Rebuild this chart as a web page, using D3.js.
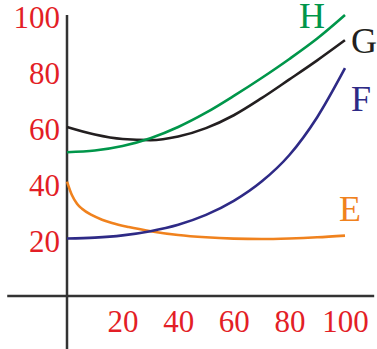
<!DOCTYPE html>
<html>
<head>
<meta charset="utf-8">
<script src="https://cdn.jsdelivr.net/npm/d3@7"></script>
<style>
	html, body { margin: 0; padding: 0; background: #fff; }
	svg { display: block; font-family: "Liberation Serif", "DejaVu Serif", serif; }
</style>
</head>
<body>
<div id="chart"></div>
<script>
// values
const xTicks = [20, 40, 60, 80, 100]
const yTicks = [20, 40, 60, 80, 100]
const xGrid = [0, 10, 20, 30, 40, 50, 60, 70, 80, 90, 100]
const xE = [0, 1.8, 3.6, 5.4, 9, 12.6, 16.2, 22.2, 30.6, 40, 50, 60, 70, 80, 90, 100]
const valuesE = [40.5, 35.6, 32.6, 30.8, 28.5, 26.9, 25.7, 24.25, 22.7, 21.4, 20.6, 20.15, 20, 20.2, 20.6, 21.2]
const valuesF = [20.2, 20.5, 21.3, 22.8, 25.1, 28.6, 33.6, 40.5, 50, 63.5, 81]
const valuesG = [60, 57.3, 55.7, 55.3, 56.6, 59.6, 64.2, 70.3, 77, 83.8, 91]
const valuesH = [51, 51.6, 53.2, 56, 60, 65.1, 71.1, 77.5, 84.3, 91.6, 100]

const width = 377, height = 349
const margin = { top: 15, left: 67 }
const plotW = 278, plotH = 280

const colors = { E: '#f0821e', F: '#2e2a86', G: '#231f20', H: '#00964a' }
// label offsets from each curve's last point (px)
const labelPos = { E: [-6, -15], F: [6, 43], G: [6, 13], H: [-46, 13] }

const series = [
	{ name: 'E', xs: xE, ys: valuesE },
	{ name: 'F', xs: xGrid, ys: valuesF },
	{ name: 'G', xs: xGrid, ys: valuesG },
	{ name: 'H', xs: xGrid, ys: valuesH }
]

const x = d3.scaleLinear().domain([0, 100]).range([margin.left, margin.left + plotW])
const y = d3.scaleLinear().domain([0, 100]).range([margin.top + plotH, margin.top])

const svg = d3.select('#chart').append('svg')
	.attr('width', width)
	.attr('height', height)

// axis lines, crossing at the origin and running past the plot
svg.append('line')
	.attr('x1', x(-21.5)).attr('x2', x(110.5))
	.attr('y1', y(0) + 1).attr('y2', y(0) + 1)
	.attr('stroke', '#333').attr('stroke-width', 2.5)
svg.append('line')
	.attr('x1', x(0)).attr('x2', x(0))
	.attr('y1', y(100)).attr('y2', height)
	.attr('stroke', '#333').attr('stroke-width', 2.5)

// tick labels, no tick marks
const xAxis = d3.axisBottom(x).tickValues(xTicks).tickSize(0).tickPadding(0)
const gx = svg.append('g')
	.attr('transform', `translate(0,${y(0)})`)
	.call(xAxis)
gx.select('.domain').remove()
gx.selectAll('text')
	.attr('y', 37)
	.attr('dy', 0)
	.attr('fill', '#e31e26')
	.style('font-size', '31px')
	.style('font-family', '"Liberation Serif", serif')

const yAxis = d3.axisLeft(y).tickValues(yTicks).tickSize(0).tickPadding(0)
const gy = svg.append('g')
	.attr('transform', `translate(${x(0) - 6},0)`)
	.call(yAxis)
gy.select('.domain').remove()
gy.selectAll('text')
	.attr('x', -1)
	.attr('dy', '0.4em')
	.attr('fill', '#e31e26')
	.style('font-size', '31px')
	.style('font-family', '"Liberation Serif", serif')

// curves
const line = d3.line()
	.x(d => x(d[0]))
	.y(d => y(d[1]))
	.curve(d3.curveMonotoneX)

svg.selectAll('path.curve')
	.data(series)
	.join('path')
	.attr('class', 'curve')
	.attr('fill', 'none')
	.attr('stroke', d => colors[d.name])
	.attr('stroke-width', 2.6)
	.attr('d', d => line(d.xs.map((v, i) => [v, d.ys[i]])))

// series letters near the end of each curve
svg.selectAll('text.name')
	.data(series)
	.join('text')
	.attr('class', 'name')
	.attr('x', d => x(d.xs[d.xs.length - 1]) + labelPos[d.name][0])
	.attr('y', d => y(d.ys[d.ys.length - 1]) + labelPos[d.name][1])
	.attr('fill', d => colors[d.name])
	.style('font-size', '36px')
	.text(d => d.name)
</script>
</body>
</html>
